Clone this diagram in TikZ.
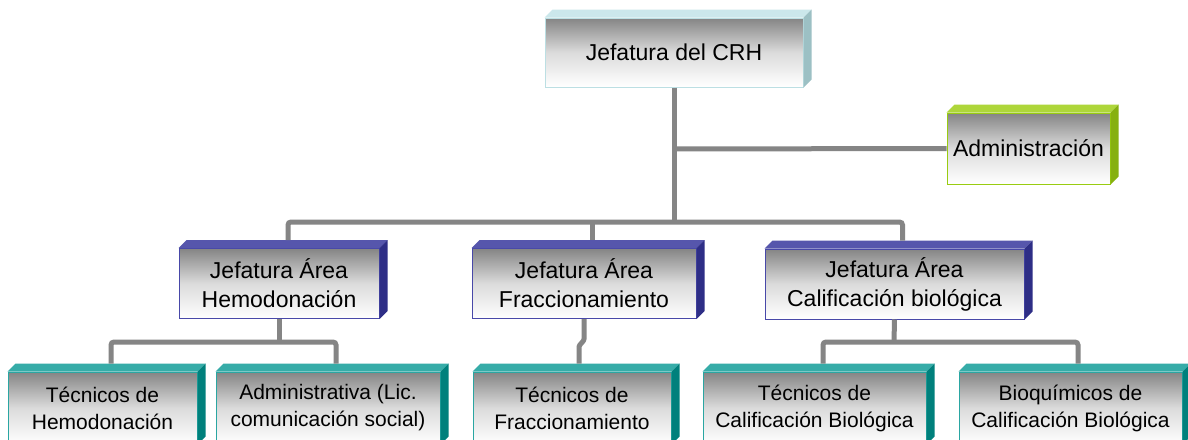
\documentclass[tikz,border=0pt]{standalone}
\usepackage{fontspec}
\setmainfont{Liberation Sans}
\usetikzlibrary{calc}
\definecolor{cyanE}{HTML}{BCDFE3}
\definecolor{cyanT}{HTML}{CBE7EB}
\definecolor{cyanS}{HTML}{9CC0C4}
\definecolor{grnE}{HTML}{99CC11}
\definecolor{grnT}{HTML}{AED63A}
\definecolor{grnS}{HTML}{86B010}
\definecolor{bluE}{HTML}{4848A8}
\definecolor{bluT}{HTML}{5656AC}
\definecolor{bluS}{HTML}{2E2E86}
\definecolor{tealE}{HTML}{2AA6A2}
\definecolor{tealT}{HTML}{36ACA8}
\definecolor{tealS}{HTML}{00807C}
\definecolor{connC}{HTML}{858585}
\tikzset{
  front/.style={rectangle, draw=#1, line width=1pt, inner sep=0pt, align=center,
    top color=black!48, bottom color=white, middle color=black!14},
  fbig/.style={font=\fontsize{23}{29}\selectfont},
  fsmall/.style={font=\fontsize{21}{27}\selectfont},
  conn/.style={draw=connC, line width=5pt, rounded corners=3pt},
}
% top face and side face of a bevelled box
\newcommand{\bevelfaces}[4]{%
  \fill[#3] (#1.north west) -- ++(#2,-#2) -- ($(#1.north east)+(#2,-#2)$) -- (#1.north east) -- cycle;
  \fill[#4] (#1.north east) -- ++(#2,-#2) -- ($(#1.south east)+(#2,-#2)$) -- (#1.south east) -- cycle;
}
\begin{document}
\begin{tikzpicture}[x=1pt,y=-1pt]
\useasboundingbox (0,0) rectangle (1188,439);
\clip (0,0) rectangle (1188,439);
\fill[white] (0,0) rectangle (1188,439);

\coordinate (bus) at (674,222);
\coordinate (adj) at (674,149);
\coordinate (b1) at (279,342);
\coordinate (b3) at (894,342);
\coordinate (b2) at (584,340);

% nodes
\node[front=cyanE, fbig, minimum width=258pt, minimum height=69pt] (top) at (674,52.5) {Jefatura del CRH};
\node[front=grnE, fbig, minimum width=163pt, minimum height=71pt] (adm) at (1028.5,148.5) {Administración};

\node[front=bluE, fbig, minimum width=200pt, minimum height=70pt] (h1) at (279,283.5) {Jefatura Área\\Hemodonación};
\node[front=bluE, fbig, minimum width=224pt, minimum height=70pt] (h2) at (584,283.5) {Jefatura Área\\Fraccionamiento};
\node[front=bluE, fbig, minimum width=259pt, minimum height=70pt] (h3) at (894.5,284) {Jefatura Área\\Calificación biológica};

\node[front=tealE, fsmall, minimum width=189pt, minimum height=72pt] (t1) at (102.5,408) {Técnicos de\\Hemodonación};
\node[front=tealE, fsmall, minimum width=224pt, minimum height=72pt] (t2) at (328,408) {Administrativa (Lic.\\comunicación social)};
\node[front=tealE, fsmall, minimum width=198pt, minimum height=72pt] (t3) at (572,408) {Técnicos de\\Fraccionamiento};
\node[front=tealE, fsmall, minimum width=223pt, minimum height=72pt] (t4) at (814.5,408) {Técnicos de\\Calificación Biológica};
\node[front=tealE, fsmall, minimum width=223pt, minimum height=72pt] (t5) at (1070.5,408) {Bioquímicos de\\Calificación Biológica};

\bevelfaces{top}{8}{cyanT}{cyanS}
\bevelfaces{adm}{8}{grnT}{grnS}
\bevelfaces{h1}{8}{bluT}{bluS}
\bevelfaces{h2}{8}{bluT}{bluS}
\bevelfaces{h3}{8}{bluT}{bluS}
\bevelfaces{t1}{8}{tealT}{tealS}
\bevelfaces{t2}{8}{tealT}{tealS}
\bevelfaces{t3}{8}{tealT}{tealS}
\bevelfaces{t4}{8}{tealT}{tealS}
\bevelfaces{t5}{8}{tealT}{tealS}

% connectors (yshift is in page direction: +8pt = upward)
\draw[conn] (top.south) -- (bus);
\draw[conn] (adj) -- (adm.west);
\draw[conn] ([xshift=9pt,yshift=8pt]h1.north) |- (bus) -| ([xshift=8pt,yshift=8pt]h3.north);
\draw[conn] ([xshift=8pt,yshift=8pt]h2.north) -- ++(0,-18);

\draw[conn] (h1.south) -- (b1);
\draw[conn] ([xshift=8.5pt,yshift=8pt]t1.north) |- (b1) -| ([xshift=8pt,yshift=8pt]t2.north);
\draw[conn] (h3.south) -- (b3);
\draw[conn] ([xshift=8.5pt,yshift=8pt]t4.north) |- (b3) -| ([xshift=7.5pt,yshift=8pt]t5.north);
\draw[conn, rounded corners=1pt] (h2.south) -- (b2) -- ++(-5,6) -- ([xshift=7pt,yshift=8pt]t3.north);
\end{tikzpicture}
\end{document}
